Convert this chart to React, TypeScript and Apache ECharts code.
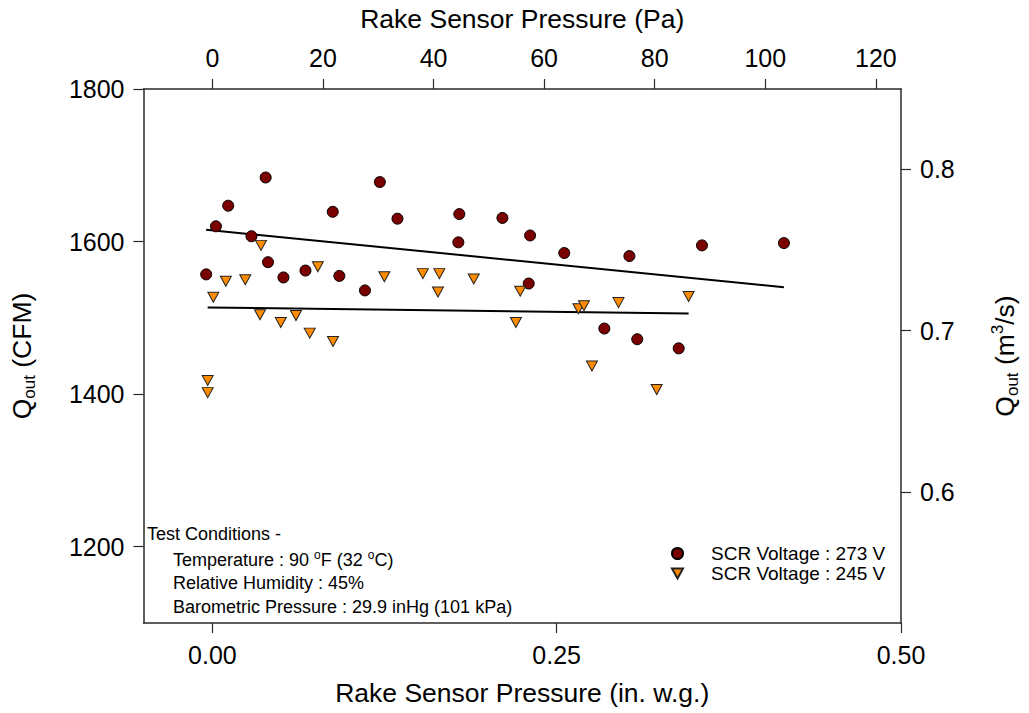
import React, { useEffect, useRef } from 'react';
import * as echarts from 'echarts';

// unit conversions for the secondary axes
const CFM_TO_M3S = 0.000471947;
const INWG_TO_PA = 249.0889;

// tick labels
const xTicksInWg = [0, 0.25, 0.5];
const xTicksPa = [0, 20, 40, 60, 80, 100, 120];
const yTicksCfm = [1200, 1400, 1600, 1800];
const yTicksM3s = [0.6, 0.7, 0.8];

// series names
const name273 = 'SCR Voltage : 273 V';
const name245 = 'SCR Voltage : 245 V';

// SCR 273 V: rake sensor pressure (in. w.g.) and Q_out (CFM)
const pressure273 = [-0.0045, 0.0026, 0.0115, 0.0284, 0.0387, 0.0404, 0.0516, 0.0676, 0.0874, 0.0922, 0.1108, 0.1216, 0.1344, 0.1786, 0.1793, 0.2106, 0.2297, 0.2307, 0.2555, 0.2846, 0.3028, 0.3085, 0.3386, 0.3555, 0.415];
const flow273 = [1557, 1620, 1647, 1607, 1684, 1573, 1553, 1562, 1639, 1555, 1536, 1678, 1630, 1599, 1636, 1631, 1545, 1608, 1585, 1486, 1581, 1472, 1460, 1595, 1598];

// SCR 245 V
const pressure245 = [-0.0034, -0.0034, 0.0007, 0.0098, 0.0239, 0.0346, 0.0353, 0.0497, 0.0607, 0.0707, 0.0766, 0.0876, 0.1249, 0.1528, 0.1638, 0.1648, 0.1898, 0.2204, 0.2235, 0.2658, 0.2698, 0.2756, 0.2949, 0.3226, 0.3458];
const flow245 = [1418, 1402, 1527, 1548, 1550, 1504, 1595, 1494, 1503, 1480, 1567, 1469, 1554, 1558, 1534, 1558, 1551, 1494, 1535, 1512, 1516, 1437, 1520, 1406, 1528];

const FONT = "'Liberation Sans', Arial, Helvetica, sans-serif";

function fitLine(xs: number[], ys: number[]): number[][] {
  const n = xs.length;
  const mx = xs.reduce((a, b) => a + b, 0) / n;
  const my = ys.reduce((a, b) => a + b, 0) / n;
  let sxy = 0;
  let sxx = 0;
  for (let i = 0; i < n; i++) {
    sxy += (xs[i] - mx) * (ys[i] - my);
    sxx += (xs[i] - mx) * (xs[i] - mx);
  }
  const b = sxy / sxx;
  const a = my - b * mx;
  const x0 = Math.min(...xs);
  const x1 = Math.max(...xs);
  return [[x0, a + b * x0], [x1, a + b * x1]];
}

const zip = (xs: number[], ys: number[]) => xs.map((x, i) => [x, ys[i]]);

export default function App() {
  const ref = useRef<HTMLDivElement>(null);

  useEffect(() => {
    document.body.style.margin = '0';
    if (!ref.current) return;
    const chart = echarts.init(ref.current, undefined, { renderer: 'svg', width: 1029, height: 713 });

    const axisLine = { show: true, onZero: false, lineStyle: { color: '#2a2a2a', width: 1.5 } };
    const axisTickBase = { show: true, inside: false, length: 10, lineStyle: { color: '#2a2a2a', width: 1.2 } };
    const labelBase = { color: '#000', fontSize: 25, fontFamily: FONT, margin: 19 };
    const titleStyle = { color: '#000', fontSize: 26.5, fontFamily: FONT };
    const nameStyle = {
      color: '#000',
      fontSize: 26.5,
      fontFamily: FONT,
      rich: {
        q: { fontSize: 26.5, fontFamily: FONT, color: '#000', lineHeight: 32 },
        s: { fontSize: 17, fontFamily: FONT, color: '#000', lineHeight: 17, verticalAlign: 'bottom' },
        p: { fontSize: 17, fontFamily: FONT, color: '#000', lineHeight: 17, verticalAlign: 'top' },
      },
    };

    const xMin = -0.05;
    const xMax = 0.5;
    const yMin = 1100;
    const yMax = 1800;

    const option: any = {
      animation: false,
      backgroundColor: '#fff',
      grid: { left: 143, width: 769, top: 86, height: 537, containLabel: false },
      xAxis: [
        {
          type: 'value',
          position: 'bottom',
          min: xMin,
          max: xMax,
          name: 'Rake Sensor Pressure (in. w.g.)',
          nameLocation: 'middle',
          nameGap: 56,
          nameTextStyle: titleStyle,
          axisLine,
          axisTick: { ...axisTickBase, customValues: xTicksInWg },
          axisLabel: { ...labelBase, customValues: xTicksInWg, formatter: (v: number) => v.toFixed(2) },
          splitLine: { show: false },
        },
        {
          type: 'value',
          position: 'top',
          min: xMin * INWG_TO_PA,
          max: xMax * INWG_TO_PA,
          name: 'Rake Sensor Pressure (Pa)',
          nameLocation: 'middle',
          nameGap: 57,
          nameTextStyle: titleStyle,
          axisLine,
          axisTick: { ...axisTickBase, customValues: xTicksPa },
          axisLabel: { ...labelBase, customValues: xTicksPa, formatter: (v: number) => String(v) },
          splitLine: { show: false },
        },
      ],
      yAxis: [
        {
          type: 'value',
          position: 'left',
          min: yMin,
          max: yMax,
          name: '{q|Q}{s|out}{q| (CFM)}',
          nameLocation: 'middle',
          nameRotate: 90,
          nameGap: 106,
          nameTextStyle: nameStyle,
          axisLine,
          axisTick: { ...axisTickBase, customValues: yTicksCfm },
          axisLabel: { ...labelBase, customValues: yTicksCfm, formatter: (v: number) => String(v) },
          splitLine: { show: false },
        },
        {
          type: 'value',
          position: 'right',
          min: yMin * CFM_TO_M3S,
          max: yMax * CFM_TO_M3S,
          name: '{q|Q}{s|out}{q| (m}{p|3}{q|/s)}',
          nameLocation: 'middle',
          nameRotate: 90,
          nameGap: 88,
          nameTextStyle: nameStyle,
          axisLine,
          axisTick: { ...axisTickBase, customValues: yTicksM3s },
          axisLabel: { ...labelBase, customValues: yTicksM3s, formatter: (v: number) => v.toFixed(1) },
          splitLine: { show: false },
        },
      ],
      legend: {
        data: [
          { name: name273, icon: 'circle' },
          { name: name245, icon: 'path://M0,0L10,0L5,9Z' },
        ],
        orient: 'vertical',
        left: 671,
        top: 544,
        padding: 0,
        itemWidth: 11,
        itemHeight: 11,
        itemGap: 1,
        selectedMode: false,
        textStyle: { color: '#000', fontSize: 19, fontFamily: FONT, padding: [0, 0, 0, 23] },
      },
      graphic: [
        {
          type: 'text',
          left: 147,
          top: 525,
          style: {
            text: 'Test Conditions -',
            fill: '#000',
            font: `18px ${FONT}`,
          },
        },
        {
          type: 'text',
          left: 173,
          top: 549,
          style: {
            text: 'Temperature : 90 {p|o}F (32 {p|o}C)',
            fill: '#000',
            font: `18px ${FONT}`,
            rich: {
              p: { fontSize: 12, fontFamily: FONT, fill: '#000', lineHeight: 12, verticalAlign: 'top' },
            },
            lineHeight: 22,
          },
        },
        {
          type: 'text',
          left: 173,
          top: 574,
          style: {
            text: 'Relative Humidity : 45%',
            fill: '#000',
            font: `18px ${FONT}`,
          },
        },
        {
          type: 'text',
          left: 173,
          top: 598,
          style: {
            text: 'Barometric Pressure : 29.9 inHg (101 kPa)',
            fill: '#000',
            font: `18px ${FONT}`,
          },
        },
      ],
      series: [
        {
          name: name273,
          type: 'scatter',
          xAxisIndex: 0,
          yAxisIndex: 0,
          symbol: 'circle',
          symbolSize: 11,
          itemStyle: { color: '#7a0000', borderColor: '#000', borderWidth: 1, opacity: 1 },
          data: zip(pressure273, flow273),
          z: 3,
        },
        {
          name: name245,
          type: 'scatter',
          xAxisIndex: 0,
          yAxisIndex: 0,
          symbol: 'triangle',
          symbolRotate: 180,
          symbolSize: [11, 10],
          itemStyle: { color: '#ff8c00', borderColor: '#222', borderWidth: 1, opacity: 1 },
          data: zip(pressure245, flow245),
          z: 3,
        },
        {
          name: 'fit273',
          type: 'line',
          xAxisIndex: 0,
          yAxisIndex: 0,
          data: fitLine(pressure273, flow273),
          showSymbol: false,
          symbol: 'none',
          lineStyle: { color: '#000', width: 2 },
          silent: true,
          z: 2,
        },
        {
          name: 'fit245',
          type: 'line',
          xAxisIndex: 0,
          yAxisIndex: 0,
          data: fitLine(pressure245, flow245),
          showSymbol: false,
          symbol: 'none',
          lineStyle: { color: '#000', width: 2 },
          silent: true,
          z: 2,
        },
      ],
    };

    chart.setOption(option);
    return () => chart.dispose();
  }, []);

  return <div ref={ref} style={{ width: 1029, height: 713 }} />;
}
